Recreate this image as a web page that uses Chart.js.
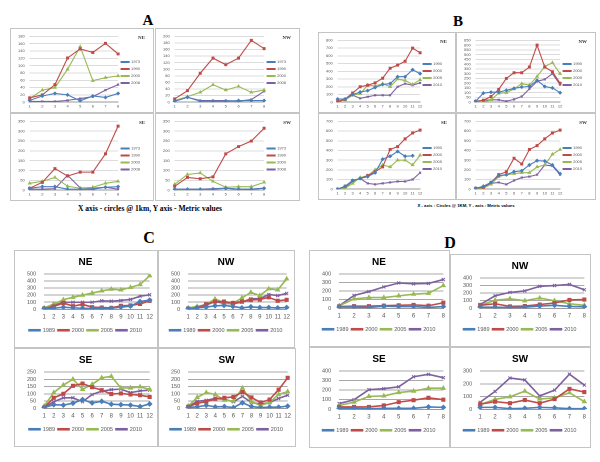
<!DOCTYPE html>
<html>
<head>
<meta charset="utf-8">
<script src="https://cdn.jsdelivr.net/npm/chart.js@4.4.0/dist/chart.umd.min.js"></script>
<style>
body{margin:0;width:600px;height:462px;background:#fff;position:relative;overflow:hidden}
.p{position:absolute;border:1px solid #c4c4c4;box-sizing:border-box;background:#fff}
.p canvas{position:absolute;left:0;top:0}
.t{position:absolute;font-family:"Liberation Serif",serif;font-weight:bold;transform:translate(-50%,-50%);white-space:nowrap;color:#000}
.n{position:absolute;font-family:"Liberation Serif",serif;font-size:5px;font-weight:bold;color:#333}
</style>
</head>
<body>
<div class="t" style="left:148px;top:20px;font-size:15px">A</div>
<div class="t" style="left:458px;top:21px;font-size:15px">B</div>
<div class="t" style="left:149px;top:238px;font-size:16px">C</div>
<div class="t" style="left:450px;top:243px;font-size:16px">D</div>
<div class="t" style="left:150px;top:208px;font-size:7.5px">X axis - circles @ 1km, Y axis - Metric values</div>
<div class="t" style="left:466px;top:205px;font-size:4.3px;font-family:'Liberation Sans',sans-serif">X - axis : Circles @ 1KM, Y - axis : Metric values</div>
<script>
// circles (x axis)
const circles8 = ['1','2','3','4','5','6','7','8'];
const circles12 = ['1','2','3','4','5','6','7','8','9','10','11','12'];

// legend years
const yearsA = ['1973','1990','2000','2008'];
const yearsB = ['1990','2000','2005','2010'];
const yearsCD = ['1989','2000','2005','2010'];

// A  (series order: blue, red, green, purple)
const aNE = [[5,17,24,20,4,17,13,24],[12,20,48,121,146,136,161,132],[10,33,40,90,152,59,67,72],[2,2,2,5,10,15,33,48]];
const aNW = [[3,15,3,3,3,5,5,5],[10,35,88,134,114,134,188,163],[5,17,30,53,37,48,30,37],[3,15,5,5,5,3,8,33]];
const aSE = [[10,18,18,5,5,5,15,18],[10,40,110,72,92,92,185,326],[35,45,65,20,10,15,35,45],[5,5,8,76,12,10,15,5]];
const aSW = [[5,5,5,5,10,5,5,10],[20,65,58,68,185,222,250,315],[30,80,88,45,15,18,18,40],[5,5,5,8,10,5,5,10]];

// B
const bNE = [[40,40,100,130,150,190,230,240,330,330,420,370],[10,40,120,200,220,250,310,440,480,530,700,640],[10,30,90,110,220,210,240,200,300,280,230,290],[0,40,90,50,70,90,90,90,200,240,220,250]];
const bNW = [[10,95,105,105,125,145,160,165,230,165,150,100],[10,20,60,135,250,310,310,370,600,370,320,200],[0,0,25,95,100,140,195,180,270,375,415,300],[10,20,25,25,10,30,60,140,220,240,300,185]];
const bSE = [[0,30,90,110,130,170,310,340,390,340,345,null],[0,30,90,110,140,180,230,410,440,520,580,610],[0,10,60,120,140,200,250,230,300,300,250,350],[0,20,80,110,60,50,60,70,80,80,100,170]];
const bSW = [[10,30,70,140,150,180,190,250,295,290,250,160],[10,20,70,150,180,320,260,410,450,520,580,610],[0,10,50,130,150,160,170,170,230,250,360,410],[10,20,60,70,50,90,120,130,150,250,240,150]];

// C
const cNE = [[10,15,30,20,15,10,10,15,30,45,110,130],[10,40,90,45,70,30,25,20,50,55,75,120],[20,75,135,170,200,230,260,285,275,310,350,475],[10,55,100,100,100,100,120,115,125,140,185,205]];
const cNW = [[10,20,30,50,55,40,20,35,25,25,20,25],[10,20,70,110,110,90,110,130,140,170,120,135],[20,40,70,145,95,85,160,240,195,290,275,430],[10,30,60,110,85,80,100,150,150,210,195,225]];
const cSE = [[5,25,22,35,60,37,48,28,25,22,12,30],[5,72,100,155,170,145,125,98,102,95,90,78],[15,108,160,200,130,165,210,220,140,140,148,130],[5,45,72,72,45,95,118,128,132,108,120,125]];
const cSW = [[5,10,20,10,12,5,38,12,5,8,8,15],[10,35,45,65,72,78,112,75,40,60,128,210],[15,75,108,95,55,50,140,45,20,40,95,115],[10,48,55,68,62,45,82,40,30,38,68,90]];

// D
const dNE = [[15,15,10,25,20,20,10,20],[20,25,25,30,35,40,30,65],[30,110,125,125,145,165,175,265],[30,150,195,250,295,285,290,335]];
const dNW = [[15,15,10,15,30,40,25,20],[40,60,25,30,50,70,110,115],[40,105,125,100,135,100,60,40],[50,165,210,230,290,300,315,245]];
const dSE = [[10,10,5,10,10,10,25,20],[25,25,25,40,75,95,120,100],[40,75,135,140,175,190,220,220],[60,100,205,215,235,340,365,330]];
const dSW = [[15,15,5,8,15,12,5,5],[40,60,48,72,48,80,160,135],[38,78,98,142,80,90,130,60],[55,140,245,230,105,150,275,190]];

const colors = ['#4a7ebb','#be4b48','#98b954','#7d60a0'];
const marks = ['rectRot','rect','triangle','crossRot'];

Chart.defaults.font.family = '"Liberation Sans", Arial, sans-serif';

function panel(left, top, w, h, big, name, years, labels, series, yMax, yStep) {
    var div = document.createElement('div');
    div.className = 'p';
    div.style.left = left + 'px';
    div.style.top = top + 'px';
    div.style.width = w + 'px';
    div.style.height = h + 'px';
    var cv = document.createElement('canvas');
    cv.width = w - 2;
    cv.height = h - 2;
    div.appendChild(cv);
    document.body.appendChild(div);

    if (!big) {
        var lab = document.createElement('div');
        lab.className = 'n';
        lab.textContent = name;
        lab.style.right = '8px';
        lab.style.top = '6px';
        div.appendChild(lab);
    }

    var fs = big ? 6 : 4;
    new Chart(cv.getContext('2d'), {
        type: 'line',
        data: {
            labels: labels,
            datasets: series.map(function(s, i) {
                return {
                    label: years[i],
                    data: s,
                    borderColor: colors[i],
                    backgroundColor: colors[i],
                    borderWidth: big ? 1.6 : 1.1,
                    pointStyle: marks[i],
                    pointRadius: big ? 2.2 : 1.4,
                    pointBorderWidth: 1,
                    tension: 0,
                    spanGaps: false
                };
            })
        },
        options: {
            responsive: false,
            animation: false,
            devicePixelRatio: 2,
            layout: {padding: big ? {top: 0, right: 5, left: 4, bottom: 4} : {top: 5, right: 3, left: 2, bottom: 1}},
            plugins: {
                title: {
                    display: big,
                    text: name,
                    color: '#000',
                    font: {size: 10, weight: 'bold'},
                    padding: {top: 5, bottom: 6}
                },
                legend: {
                    position: big ? 'bottom' : 'right',
                    labels: {
                        font: {size: big ? 5.5 : 4},
                        color: '#555',
                        boxWidth: big ? 11 : 8,
                        boxHeight: 1,
                        padding: 3
                    }
                },
                tooltip: {enabled: false}
            },
            scales: {
                x: {
                    grid: {display: false, drawTicks: false},
                    border: {color: '#999'},
                    ticks: {font: {size: fs}, color: '#555', autoSkip: false, maxRotation: 0, padding: big ? 4 : 2}
                },
                y: {
                    min: 0,
                    max: yMax,
                    grid: {color: big ? '#a8a8a8' : '#dcdcdc', drawTicks: false},
                    border: {display: false},
                    ticks: {stepSize: yStep, autoSkip: false, font: {size: big ? 5.5 : 4}, color: '#555', padding: big ? 8 : 5}
                }
            }
        }
    });
}

panel(10, 28, 144, 85, false, 'NE', yearsA, circles8, aNE, 180, 20);
panel(155, 28, 145, 85, false, 'NW', yearsA, circles8, aNW, 200, 20);
panel(10, 113, 144, 88, false, 'SE', yearsA, circles8, aSE, 350, 50);
panel(155, 113, 145, 88, false, 'SW', yearsA, circles8, aSW, 350, 50);

panel(318, 32, 138, 81, false, 'NE', yearsB, circles12, bNE, 800, 100);
panel(456, 32, 140, 81, false, 'NW', yearsB, circles12, bNW, 650, 50);
panel(318, 113, 138, 87, false, 'SE', yearsB, circles12, bSE, 700, 100);
panel(456, 113, 140, 87, false, 'SW', yearsB, circles12, bSW, 700, 100);

panel(14, 250, 144, 98, true, 'NE', yearsCD, circles12, cNE, 500, 100);
panel(158, 250, 137, 98, true, 'NW', yearsCD, circles12, cNW, 500, 100);
panel(14, 348, 144, 99, true, 'SE', yearsCD, circles12, cSE, 250, 50);
panel(158, 348, 138, 99, true, 'SW', yearsCD, circles12, cSW, 250, 50);

panel(309, 250, 141, 97, true, 'NE', yearsCD, circles8, dNE, 400, 100);
panel(450, 254, 141, 93, true, 'NW', yearsCD, circles8, dNW, 400, 100);
panel(309, 347, 141, 101, true, 'SE', yearsCD, circles8, dSE, 400, 100);
panel(450, 347, 141, 101, true, 'SW', yearsCD, circles8, dSW, 300, 100);
</script>
</body>
</html>
